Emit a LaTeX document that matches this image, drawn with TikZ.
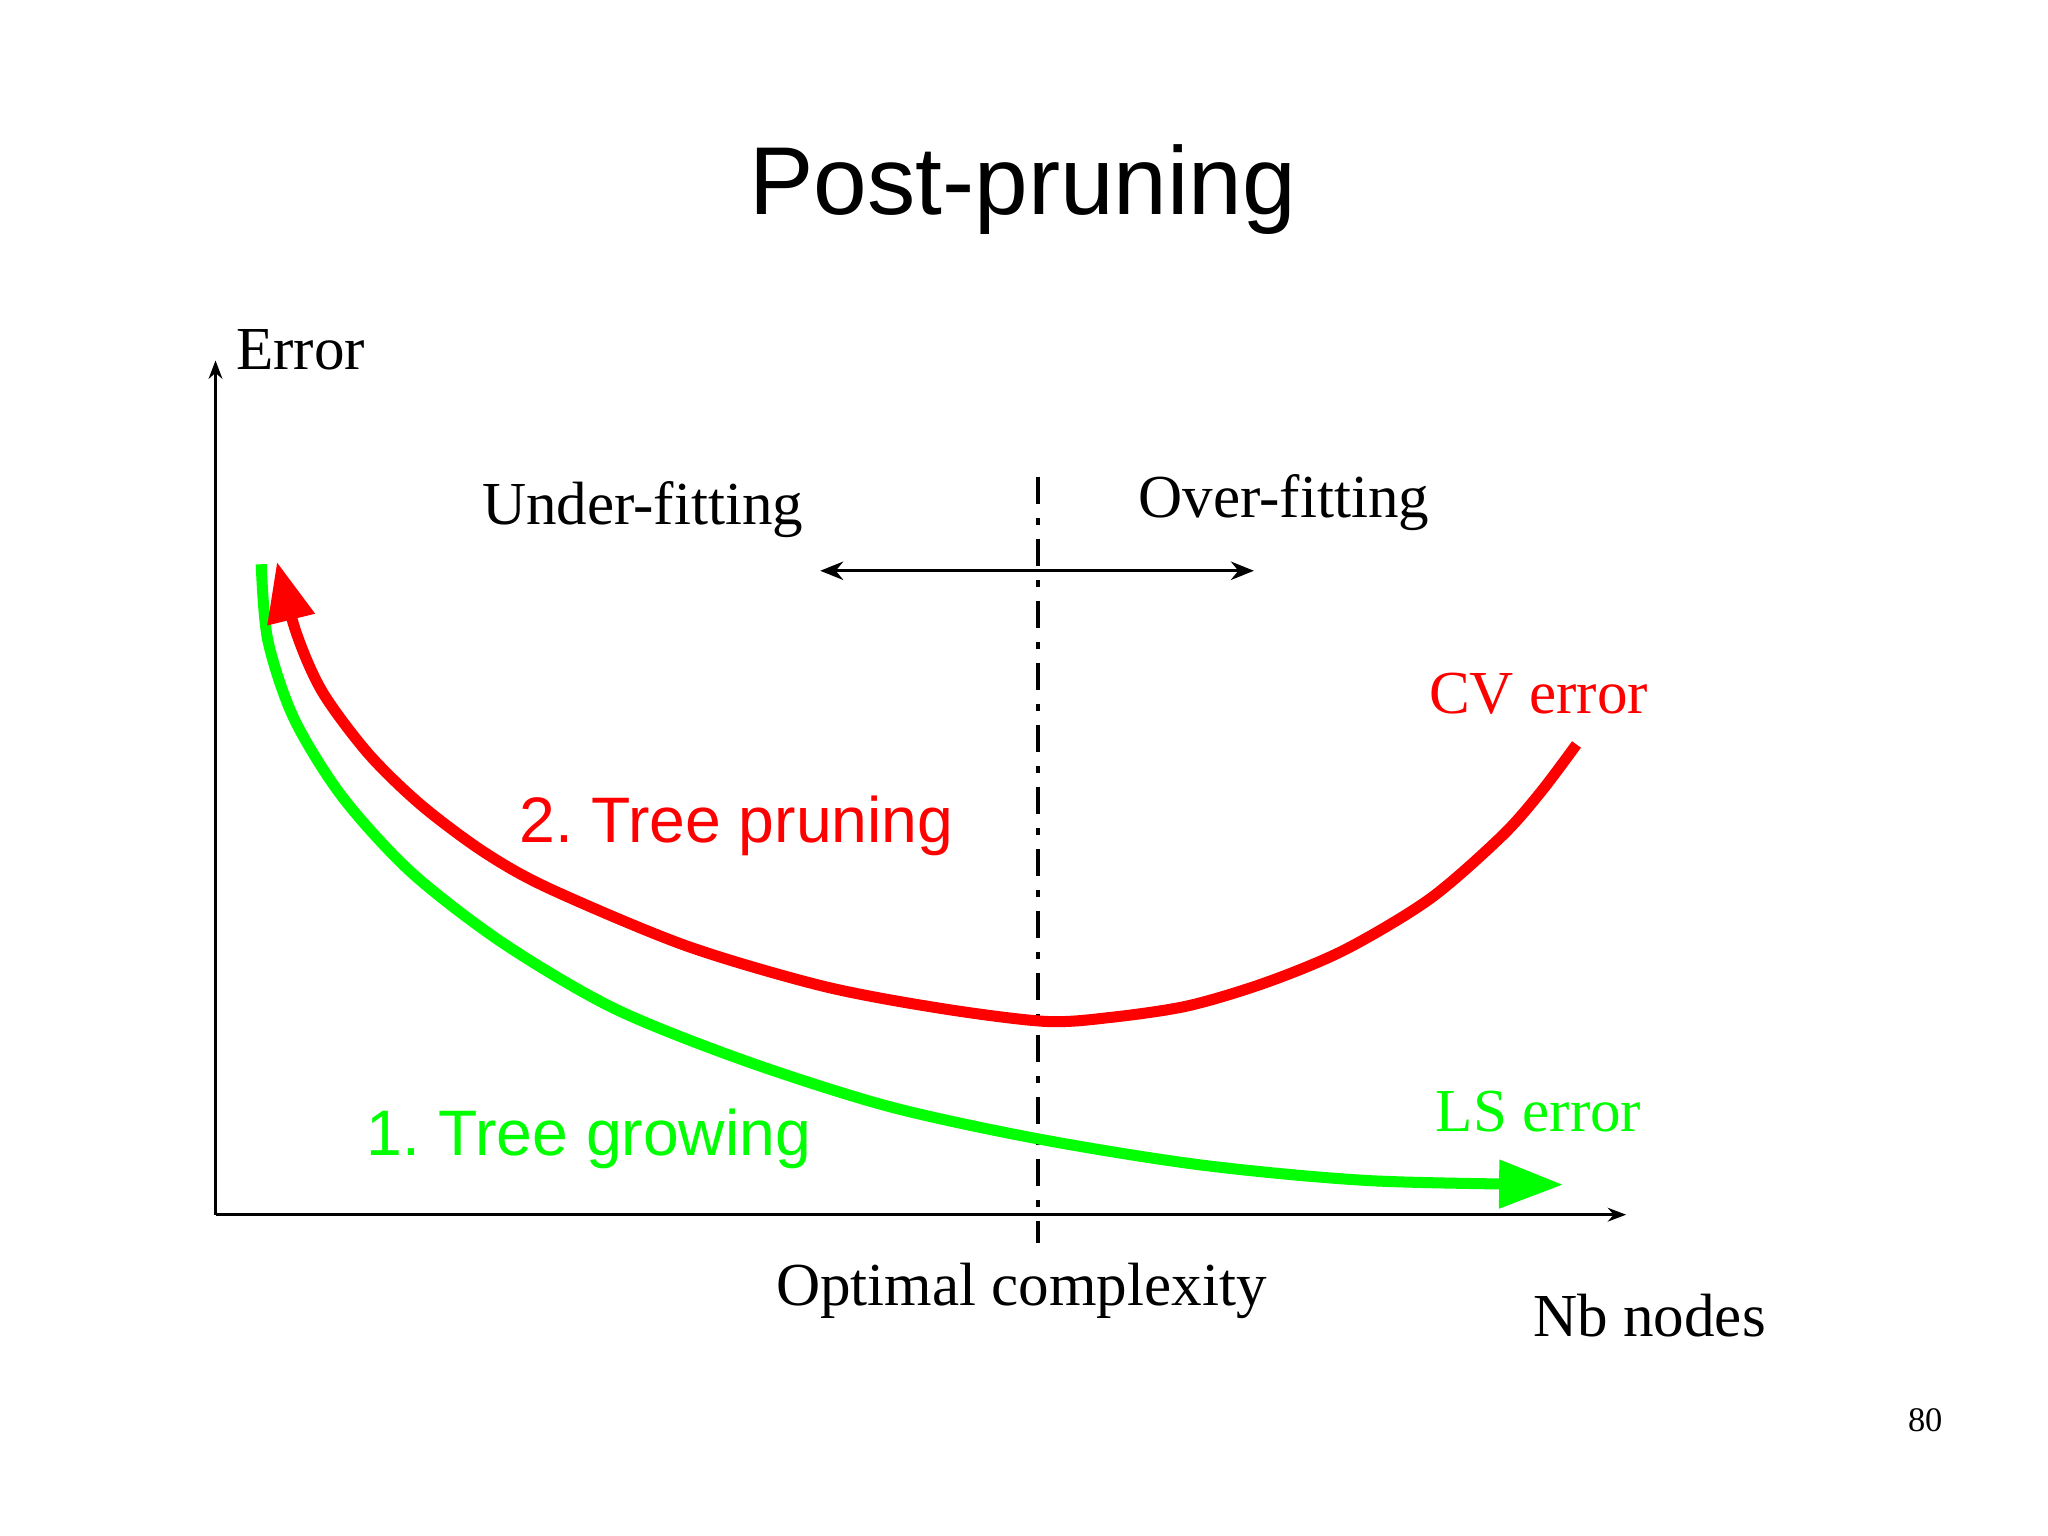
\documentclass[tikz,border=0pt]{standalone}
\usepackage{fontspec}
\setmainfont{Liberation Serif}
\newfontfamily\arialf{Liberation Sans}
\usetikzlibrary{arrows.meta}
\definecolor{lgreen}{RGB}{0,255,0}
\definecolor{lred}{RGB}{255,0,0}
\begin{document}
\frenchspacing
\begin{tikzpicture}[x=0.01cm,y=-0.01cm,
  serif/.style={font=\fontsize{13.3}{16}\selectfont,inner sep=0},
  axis/.style={line width=0.6pt,-{Stealth[length=4pt,width=3pt]}},
  curve/.style={line width=2.4pt}]
\fill[white] (0,0) rectangle (1568,1176);
\useasboundingbox (0,0) rectangle (1568,1176);
\node[font=\arialf\fontsize{21}{24}\selectfont] (title) at (783,145) {Post-pruning};
\coordinate (o) at (165,930);
\coordinate (ytop) at (165,276);
\coordinate (xend) at (1245,930);
\draw[axis] (o) -- (ytop);
\draw[axis] (o) -- (xend);
\node[serif,anchor=west] (err) at (180,268) {Error};
\node[serif] (nb) at (1263,1007) {Nb nodes};
\node[serif] (opt) at (782,988) {Optimal complexity};
\node[serif] (uf) at (492,390) {Under-fitting};
\node[serif] (of) at (983,385) {Over-fitting};
\coordinate (dtop) at (795,365);
\coordinate (dbot) at (795,952);
\draw[line width=0.9pt,dash pattern=on 6pt off 3pt on 1.5pt off 3pt] (dtop) -- (dbot);
\coordinate (al) at (628,437);
\coordinate (ar) at (960,437);
\draw[line width=0.7pt,{Stealth[length=5pt,width=4pt]}-{Stealth[length=5pt,width=4pt]}] (al) -- (ar);
\draw[curve,lgreen,-{Triangle[length=14pt,width=10pt]}] plot[smooth] coordinates {(200,432) (205,490) (225,550) (262,610) (315,668) (385,722) (470,772) (570,812) (680,847) (795,872) (920,892) (1050,904) (1197,907)};
\draw[curve,lred,-{Triangle[length=13pt,width=10pt]}] plot[smooth] coordinates {(1207,570) (1180,606) (1150,640) (1095,688) (1030,727) (970,752) (910,770) (850,779) (800,782) (720,772) (630,755) (525,724) (420,680) (370,652) (322,616) (282,577) (247,530) (227,485) (212,430)};
\node[lred,inner sep=0,font=\arialf\fontsize{14}{17}\selectfont] (tp) at (564,632) {2. Tree pruning};
\node[lgreen,inner sep=0,font=\arialf\fontsize{14}{17}\selectfont] (tg) at (451,872) {1. Tree growing};
\node[serif,lred] (cv) at (1178,531) {CV error};
\node[serif,lgreen] (ls) at (1178,851) {LS error};
\node[font=\fontsize{7.5}{9}\selectfont] (pg) at (1474,1087) {80};
\end{tikzpicture}
\end{document}
